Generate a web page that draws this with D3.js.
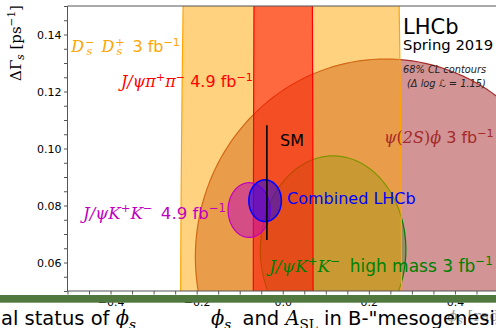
<!DOCTYPE html>
<html>
<head>
<meta charset="utf-8">
<script src="https://cdn.jsdelivr.net/npm/d3@7"></script>
<style>
  body { margin: 0; background: #fff; }
  svg text { font-family: "DejaVu Sans", sans-serif; }
</style>
</head>
<body>
<div id="mainArea"></div>
<script>
// axis ranges and tick labels
var phiDomain = [-0.5, 0.5];
var dgDomain = [0.05, 0.15];
var phiTickValues = [-0.4, -0.2, 0.0, 0.2, 0.4];
var phiTickLabels = ["\u22120.4", "\u22120.2", "0.0", "0.2", "0.4"];
var dgTickValues = [0.06, 0.08, 0.10, 0.12, 0.14];
var dgTickLabels = ["0.06", "0.08", "0.10", "0.12", "0.14"];

// 68% CL contours, drawn in this order
var contours = ["psi2Sphi", "highmass", "DsDs", "Jpsipipi", "JpsiKK", "combined"];
var contourPhi   = [0.239, 0.117, 0.0195, 0.001, -0.078, -0.041];   // centre phi_s
var contourDG    = [0.0619, 0.0644, 0.02, 0.02, 0.0784, 0.0817];    // centre DeltaGamma_s
var contourSigPhi = [0.442, 0.169, 0.257, 0.0695, 0.049, 0.0377];   // half width
var contourSigDG  = [0.0695, 0.033, 0.6, 0.6, 0.0096, 0.0073];      // half height

// standard model
var smPhi = -0.0369;
var smDG = [0.0679, 0.1082];

function mainInit() {
  var width = 496, height = 328;
  var left = 67.5, right = 498, top = 6, bottom = 291;

  var vis = d3.select("#mainArea").append("svg")
      .attr("width", width).attr("height", height);

  var x = d3.scaleLinear().domain(phiDomain).range([left, right]);
  var y = d3.scaleLinear().domain(dgDomain).range([bottom, top]);

  vis.append("clipPath").attr("id", "plotClip")
     .append("rect").attr("x", left).attr("y", top)
     .attr("width", right - left).attr("height", bottom - top);

  var edge = ["#a52a2a", "#008000", "#ffa500", "#ff0000", "#bf00bf", "#0000ff"];
  var alpha = [0.5, 0.3, 0.5, 0.5, 0.5, 0.5];

  var line = d3.line();
  function ellipsePath(i) {
    var pts = d3.range(0, 360, 2).map(function(a) {
      var t = a * Math.PI / 180;
      return [x(contourPhi[i] + contourSigPhi[i] * Math.cos(t)),
              y(contourDG[i] + contourSigDG[i] * Math.sin(t))];
    });
    return line(pts) + "Z";
  }

  var plot = vis.append("g").attr("clip-path", "url(#plotClip)");
  plot.selectAll("path.contour")
      .data(contours)
      .enter()
      .append("path")
      .attr("class", "contour")
      .attr("d", function(d, i) { return ellipsePath(i); })
      .attr("fill", function(d, i) { return edge[i]; })
      .attr("fill-opacity", function(d, i) { return alpha[i]; })
      .attr("stroke", function(d, i) { return edge[i]; })
      .attr("stroke-width", function(d, i) { return i == 5 ? 1.6 : 1.2; });

  plot.append("line")
      .attr("x1", x(smPhi)).attr("x2", x(smPhi))
      .attr("y1", y(smDG[0])).attr("y2", y(smDG[1]))
      .style("stroke", "#000").style("stroke-width", 1.6);

  // rich text helper: m = math italic, r = math roman, s = sans
  function rich(g, px, py, segs, size, color, anchor) {
    var t = g.append("text").attr("x", px).attr("y", py)
        .attr("font-size", size).attr("fill", color)
        .attr("text-anchor", anchor || "start");
    var shift = 0;
    segs.forEach(function(s) {
      var sp = t.append("tspan").text(s[0]);
      if (s[1] != "s") sp.attr("font-family", "DejaVu Serif");
      if (s[1] == "m") sp.attr("font-style", "italic");
      var want = 0;
      if (s[2] == "sub") want = 0.22 * size;
      if (s[2] == "sup") want = -0.38 * size;
      if (s[2]) sp.attr("font-size", size * 0.7);
      sp.attr("dy", want - shift);
      shift = want;
      if (s[3]) sp.attr("dx", s[3]);
    });
    return t;
  }

  var fs = 16;
  var texts = vis.append("g");
  rich(texts, x(-0.2387), y(0.134), [["D","m"],["\u2212","r","sup",1],["s","m","sub",-8],[" D","m",null,4],["+","r","sup",1],["s","m","sub",-8],["  3 fb","s",null,5],["\u22121","s","sup"]], fs, "#ffa500", "end");
  rich(texts, x(-0.0691), y(0.1216), [["J/\u03c8\u03c0","m"],["+","r","sup"],["\u03c0","m"],["\u2212","r","sup"],[" 4.9 fb","s"],["\u22121","s","sup"]], fs, "#ff0000", "end");
  rich(texts, x(0.2352), y(0.1018), [["\u03c8","m"],["(","r"],["2S","m"],[")","r"],["\u03d5","m"],[" 3 fb","s"],["\u22121","s","sup"]], fs, "#a52a2a", "start");
  rich(texts, x(-0.1318), y(0.0754), [["J/\u03c8K","m"],["+","r","sup"],["K","m"],["\u2212","r","sup"],[" 4.9 fb","s",null,3],["\u22121","s","sup"]], 16.6, "#bf00bf", "end");
  rich(texts, x(0.0099), y(0.0807), [["Combined LHCb","s"]], fs, "#0000ff", "start");
  rich(texts, x(-0.0319), y(0.0568), [["J/\u03c8K","m"],["+","r","sup"],["K","m"],["\u2212","r","sup"],[" high mass 3 fb","s",null,4],["\u22121","s","sup"]], 17, "#008000", "start");
  rich(texts, x(-0.0064), y(0.1009), [["SM","s"]], fs, "#000", "start");

  texts.append("text").attr("x", 403).attr("y", 34).attr("font-size", 21).text("LHCb");
  texts.append("text").attr("x", 403).attr("y", 50).attr("font-size", 14.8).text("Spring 2019");
  texts.append("text").attr("x", 403).attr("y", 73).attr("font-size", 9.8)
       .attr("font-style", "italic").attr("fill", "#222").text("68% CL contours");
  rich(texts, 407, 87, [["(\u0394 log ","s"],["\u2112","s"],[" = 1.15)","s"]], 9.8, "#222", "start")
       .attr("font-style", "italic");

  // axes
  var xAxis = d3.axisBottom(x).tickValues(x.ticks(20)).tickSize(3.5).tickPadding(3.2)
      .tickFormat(function(d) {
        var k = phiTickValues.findIndex(function(v) { return Math.abs(v - d) < 1e-9; });
        return k < 0 ? "" : phiTickLabels[k];
      });
  var yAxis = d3.axisLeft(y).tickValues(y.ticks(20)).tickSize(3.5).tickPadding(2.5)
      .tickFormat(function(d) {
        var k = dgTickValues.findIndex(function(v) { return Math.abs(v - d) < 1e-9; });
        return k < 0 ? "" : dgTickLabels[k];
      });

  var gx = vis.append("g").attr("transform", "translate(0," + bottom + ")").call(xAxis);
  var gy = vis.append("g").attr("transform", "translate(" + left + ",0)").call(yAxis);
  [gx, gy].forEach(function(g) {
    g.select(".domain").remove();
    g.selectAll(".tick line").attr("stroke", "#555");
    g.selectAll(".tick text").attr("font-size", 11).attr("fill", "#000")
     .attr("font-family", "DejaVu Sans");
  });

  // frame
  vis.append("path")
     .attr("d", "M" + right + "," + top + "H" + left + "V" + bottom + "H" + right)
     .attr("fill", "none").attr("stroke", "#555").attr("stroke-width", 1);

  // y label
  var yl = rich(vis, 0, 0, [["\u0394\u0393","r"],["s","m","sub"],[" [ps","r"],["\u22121","r","sup"],["]","r"]], 15, "#000", "middle");
  yl.attr("transform", "translate(21,43) rotate(-90)");

  // slide overlay
  vis.append("rect").attr("x", 0).attr("y", 306).attr("width", width).attr("height", height - 306)
     .attr("fill", "#fff");
  vis.append("rect").attr("x", 0).attr("y", 295).attr("width", width).attr("height", 7.7)
     .attr("fill", "#51793f");
  rich(vis, 505, 321, [["\u03d5","m"],["s","m","sub"],[" [rad]","r"]], 15, "#999", "end");
  rich(vis, 136, 325, [["al status of ","s"],["\u03d5","m"],["s","m","sub"]], 19.5, "#000", "end");
  rich(vis, 211, 325, [["\u03d5","m"],["s","m","sub"],[" and ","s",null,5],["A","m"],["SL","r","sub"],[" in B-\"mesogenesis\"","s"]], 19.5, "#000", "start");
}

window.onload = mainInit;
</script>
</body>
</html>
